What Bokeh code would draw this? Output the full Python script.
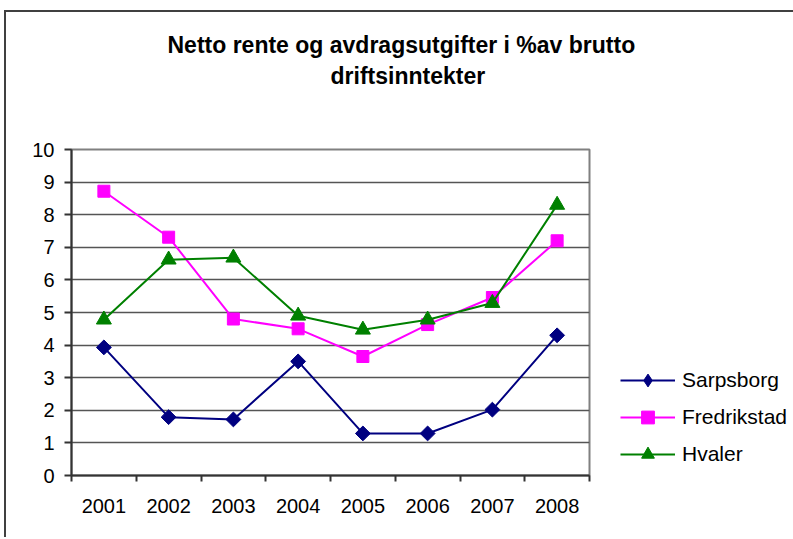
import math
from bokeh.plotting import figure
from bokeh.models import (Range1d, FixedTicker, Legend, LegendItem, Title, ColumnDataSource)
from bokeh.embed import file_html
from bokeh.resources import INLINE

years = ["2001", "2002", "2003", "2004", "2005", "2006", "2007", "2008"]
sarpsborg = [3.93, 1.79, 1.72, 3.5, 1.29, 1.29, 2.02, 4.3]
fredrikstad = [8.72, 7.31, 4.80, 4.50, 3.65, 4.63, 5.46, 7.2]
hvaler = [4.78, 6.62, 6.68, 4.9, 4.47, 4.78, 5.29, 8.3]
yticks = list(range(0, 11))
title_lines = ["Netto rente og avdragsutgifter i %av brutto", "driftsinntekter"]

FONT = "Liberation Sans"
xpos = [i + 0.5 for i in range(len(years))]

p = figure(output_backend="svg", toolbar_location=None,
           width=785, height=525,
           frame_width=518, frame_height=326,
           min_border_left=65, min_border_right=202,
           min_border_top=137, min_border_bottom=62,
           x_range=Range1d(0, len(years)), y_range=Range1d(0, 10))
p.styles = {"margin-left": "4px", "margin-top": "10px",
            "border-left": "2px solid #404040", "border-top": "2px solid #404040"}
p.background_fill_color = "white"
p.border_fill_color = "white"
p.outline_line_color = "#808080"
p.outline_line_width = 2

# y axis
p.yaxis.ticker = FixedTicker(ticks=yticks, minor_ticks=[])
p.yaxis.major_label_text_font = FONT
p.yaxis.major_label_text_font_size = "20px"
p.yaxis.major_label_text_color = "black"
p.yaxis.axis_line_color = "#333333"
p.yaxis.axis_line_width = 2
p.yaxis.major_tick_line_color = "#333333"
p.yaxis.major_tick_line_width = 2
p.yaxis.major_tick_in = 0
p.yaxis.major_tick_out = 7
p.yaxis.major_label_standoff = 10
p.yaxis.minor_tick_line_color = None

# x axis
p.xaxis.ticker = FixedTicker(ticks=xpos, minor_ticks=list(range(len(years) + 1)))
p.xaxis.major_label_overrides = {x: y for x, y in zip(xpos, years)}
p.xaxis.major_label_text_font = FONT
p.xaxis.major_label_text_font_size = "20px"
p.xaxis.major_label_text_color = "black"
p.xaxis.axis_line_color = "#333333"
p.xaxis.axis_line_width = 2
p.xaxis.major_tick_out = 0
p.xaxis.major_tick_in = 0
p.xaxis.minor_tick_out = 6
p.xaxis.minor_tick_in = 0
p.xaxis.minor_tick_line_color = "#333333"
p.xaxis.minor_tick_line_width = 2
p.xaxis.major_label_standoff = 17

p.xgrid.grid_line_color = None
p.ygrid.grid_line_color = "#555555"
p.ygrid.grid_line_width = 1.5

src = ColumnDataSource(dict(x=xpos, s=sarpsborg, f=fredrikstad, h=hvaler))

l1 = p.line("x", "s", source=src, color="#000080", line_width=2)
# diamond glyph (used for the legend), covered by the rotated square on top
m1_leg = p.scatter("x", "s", source=src, marker="diamond", size=13, color="#000080")
m1 = p.scatter("x", "s", source=src, marker="square", size=10.5, angle=math.pi / 4,
               color="#000080")
l2 = p.line("x", "f", source=src, color="#FF00FF", line_width=2)
m2 = p.scatter("x", "f", source=src, marker="square", size=12, color="#FF00FF")
l3 = p.line("x", "h", source=src, color="#008000", line_width=2)
m3 = p.scatter("x", "h", source=src, marker="triangle", size=15, color="#008000")

legend = Legend(items=[
    LegendItem(label="Sarpsborg", renderers=[l1, m1_leg]),
    LegendItem(label="Fredrikstad", renderers=[l2, m2]),
    LegendItem(label="Hvaler", renderers=[l3, m3]),
], location=(31, 5))
legend.glyph_width = 55
legend.glyph_height = 32
legend.label_height = 32
legend.spacing = 5
legend.label_standoff = 7
legend.padding = 0
legend.margin = 0
legend.border_line_color = None
legend.background_fill_alpha = 0
legend.label_text_font = FONT
legend.label_text_font_size = "21px"
legend.label_text_color = "black"
p.add_layout(legend, "right")

spacer = Title(text=" ", standoff=34, text_font=FONT, text_font_size="22px")
t2 = Title(text=title_lines[1], align="left", offset=259, standoff=0,
           text_font=FONT, text_font_style="bold", text_font_size="23px",
           text_color="black")
t1 = Title(text=title_lines[0], align="left", offset=96, standoff=6,
           text_font=FONT, text_font_style="bold", text_font_size="23px",
           text_color="black")
p.add_layout(spacer, "above")
p.add_layout(t2, "above")
p.add_layout(t1, "above")

open("out.html", "w").write(file_html(p, INLINE))
